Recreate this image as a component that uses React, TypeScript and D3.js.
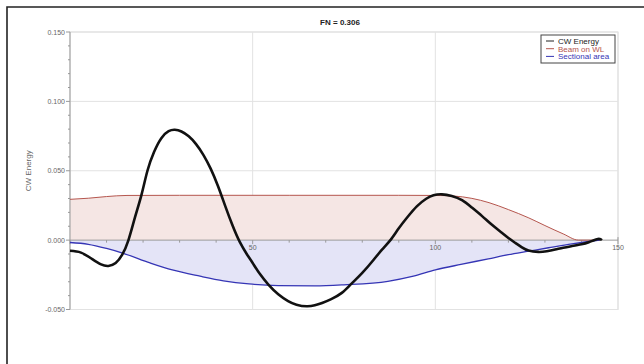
import * as d3 from "d3";

// CW Energy curve [x, value]
const cwEnergy: [number, number][] = [
  [0, -0.0077], [3, -0.009], [6, -0.0135], [8.5, -0.0175], [10.5, -0.0186], [12.5, -0.0165],
  [14.3, -0.0105], [16, 0], [17.8, 0.0165], [19.6, 0.033], [21.2, 0.05], [23, 0.0635],
  [25, 0.0735], [27, 0.0785], [28.7, 0.0795], [30.5, 0.0783], [32.5, 0.0748], [34.5, 0.0692],
  [36.5, 0.0615], [38.5, 0.0515], [40.5, 0.039], [42.5, 0.0245], [44.5, 0.0105], [46.5, -0.0015],
  [48.5, -0.0105], [50, -0.0165], [52, -0.0245], [54.3, -0.032], [57, -0.039], [59.7, -0.0439],
  [62, -0.0465], [64.8, -0.0477], [67, -0.047], [69, -0.0453], [71.5, -0.0425], [74.4, -0.038],
  [77, -0.0315], [80, -0.0236], [83, -0.0145], [85.4, -0.0068], [87.7, 0], [90, 0.0085],
  [92.5, 0.017], [95, 0.0245], [97.5, 0.0298], [99.5, 0.0323], [101.8, 0.033], [104.5, 0.0318],
  [107.3, 0.0288], [110, 0.0235], [112.8, 0.0173], [115.5, 0.011], [118.2, 0.0053],
  [120, 0.0015], [121.9, -0.002], [123.7, -0.0052], [125.5, -0.0075], [128.2, -0.0085],
  [130.5, -0.008], [132.8, -0.0068], [135, -0.0055], [137.4, -0.0043], [140, -0.003],
  [142, -0.0015], [144.5, 0.0008], [145.6, 0],
];

// Beam on WL
const beamOnWL: [number, number][] = [
  [0, 0.0294], [5, 0.0302], [10, 0.0314], [15.6, 0.0322], [30, 0.0323], [60, 0.0323],
  [90, 0.0323], [100, 0.0322], [105, 0.0318], [110, 0.0301], [114.7, 0.027], [120, 0.022],
  [125.6, 0.016], [130, 0.0105], [135, 0.0045], [139.2, 0], [145, 0],
];

// Sectional area
const sectionalArea: [number, number][] = [
  [0, -0.0017], [5, -0.003], [10, -0.006], [14.6, -0.0095], [21.9, -0.0164], [28, -0.0215],
  [35.6, -0.026], [42, -0.0293], [49, -0.0316], [57, -0.0328], [67, -0.033], [75, -0.0322],
  [87, -0.0297], [94, -0.026], [100, -0.0215], [107, -0.0175], [114.5, -0.0135], [120, -0.0105],
  [125.5, -0.008], [131, -0.0055], [137.4, -0.0027], [142, -0.001], [145, 0],
];

const xMajor = [50, 100, 150];
const yMajor = [0.15, 0.1, 0.05, 0, -0.05];

const legendItems = [
  { name: "CW Energy", color: "#222" },
  { name: "Beam on WL", color: "#b5564e" },
  { name: "Sectional area", color: "#3535b5" },
];

const W = 644;
const H = 364;
const font = "'Liberation Sans', Arial, sans-serif";

export default function App() {
  const x = d3.scaleLinear().domain([0, 150]).range([70, 618]);
  const y = d3.scaleLinear().domain([-0.05, 0.15]).range([309.5, 32]);

  const line = d3.line<[number, number]>()
    .x(d => x(d[0]))
    .y(d => y(d[1]))
    .curve(d3.curveMonotoneX);

  const smooth = d3.line<[number, number]>()
    .x(d => x(d[0]))
    .y(d => y(d[1]))
    .curve(d3.curveNatural);

  const area = d3.area<[number, number]>()
    .x(d => x(d[0]))
    .y0(y(0))
    .y1(d => y(d[1]))
    .curve(d3.curveMonotoneX);

  const xMinor = d3.range(0, 151, 10);
  const yMinor = d3.range(-50, 151, 10).map(v => v / 1000);

  return (
    <svg width={W} height={H} style={{ position: "absolute", left: 0, top: 0, background: "#fff" }}>
      {/* frame */}
      <path d={`M7,${H + 5}V7H${W + 5}`} fill="none" stroke="#222" strokeWidth={1.6} />

      {/* title */}
      <text x={340} y={25} textAnchor="middle" fontFamily={font} fontSize={8} fontWeight="bold" fill="#222">
        FN = 0.306
      </text>

      {/* plot box + grid */}
      <rect x={x(0)} y={y(0.15)} width={x(150) - x(0)} height={y(-0.05) - y(0.15)} fill="none" stroke="#ddd" />
      {yMajor.filter(v => v !== 0).map(v => (
        <line key={v} x1={x(0)} x2={x(150)} y1={y(v)} y2={y(v)} stroke="#e2e2e2" />
      ))}
      {xMajor.map(v => (
        <line key={v} x1={x(v)} x2={x(v)} y1={y(0.15)} y2={y(-0.05)} stroke="#e2e2e2" />
      ))}

      {/* fills */}
      <path d={area(beamOnWL) ?? ""} fill="#f5e6e4" />
      <path d={area(sectionalArea) ?? ""} fill="#e4e4f7" />

      {/* x axis at zero */}
      <line x1={x(0)} x2={x(150)} y1={y(0)} y2={y(0)} stroke="#999" />
      {xMinor.map(v => (
        <line key={v} x1={x(v)} x2={x(v)} y1={y(0)} y2={y(0) + (v % 50 === 0 ? 4 : 2.5)} stroke="#999" />
      ))}
      <line x1={x(150)} x2={x(150)} y1={y(0) - 3} y2={y(0)} stroke="#999" />
      {xMajor.map(v => (
        <text key={v} x={x(v)} y={y(0) + 10} textAnchor="middle" fontFamily={font} fontSize={7} fill="#666">
          {v}
        </text>
      ))}

      {/* y axis */}
      <line x1={x(0)} x2={x(0)} y1={y(0.15)} y2={y(-0.05)} stroke="#999" />
      {yMinor.map(v => (
        <line key={v} x1={x(0) - (Math.round(v * 1000) % 50 === 0 ? 4 : 2)} x2={x(0)} y1={y(v)} y2={y(v)} stroke="#999" />
      ))}
      {yMajor.map(v => (
        <text key={v} x={x(0) - 5} y={y(v) + 2.5} textAnchor="end" fontFamily={font} fontSize={7} fill="#666">
          {d3.format(".3f")(v).replace("−", "-")}
        </text>
      ))}
      <text
        transform={`translate(31,${(y(0.15) + y(-0.05)) / 2}) rotate(-90)`}
        textAnchor="middle"
        fontFamily={font}
        fontSize={8}
        fill="#666"
      >
        CW Energy
      </text>

      {/* lines */}
      <path d={line(beamOnWL) ?? ""} fill="none" stroke="#b5564e" strokeWidth={1} />
      <path d={line(sectionalArea) ?? ""} fill="none" stroke="#3535b5" strokeWidth={1.3} />
      <path d={smooth(cwEnergy) ?? ""} fill="none" stroke="#111" strokeWidth={2.6} strokeLinejoin="round" />

      {/* legend */}
      <g transform="translate(541,35)">
        <rect width={74} height={28} fill="#fff" stroke="#444" />
        {legendItems.map((d, i) => (
          <g key={d.name} transform={`translate(0,${6 + i * 7.7})`}>
            <line x1={5} x2={13} y1={0} y2={0} stroke={d.color} strokeWidth={1} />
            <text x={17} y={3} fontFamily={font} fontSize={8} fill={d.color}>
              {d.name}
            </text>
          </g>
        ))}
      </g>
    </svg>
  );
}
